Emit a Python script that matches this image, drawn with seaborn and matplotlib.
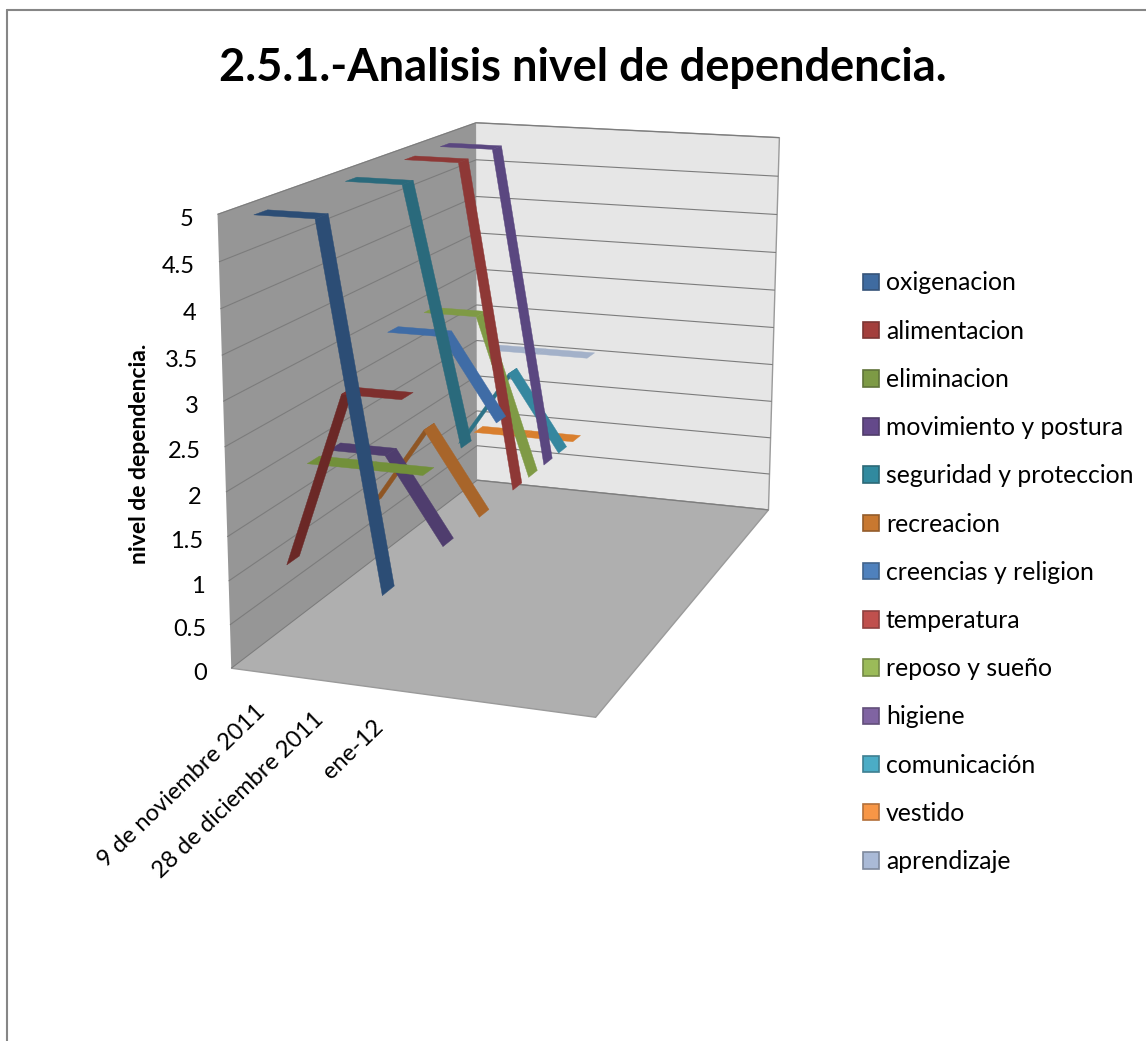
import numpy as np
import matplotlib
matplotlib.use('Agg')
import matplotlib.pyplot as plt
import seaborn as sns
from matplotlib.colors import to_rgb
from matplotlib.lines import Line2D
from matplotlib.patches import Patch
from matplotlib.transforms import offset_copy
from mpl_toolkits.mplot3d import proj3d
from mpl_toolkits.mplot3d.art3d import Poly3DCollection

fechas = ['9 de noviembre 2011', '28 de diciembre 2011', 'ene-12']
series = ['oxigenacion', 'alimentacion', 'eliminacion', 'movimiento y postura',
          'seguridad y proteccion', 'recreacion', 'creencias y religion', 'temperatura',
          'reposo y sueño', 'higiene', 'comunicación', 'vestido', 'aprendizaje']
oxigenacion = [5, 5, 1]
alimentacion = [1, 3, 3]
eliminacion = [2, 2, 2]
movimiento = [2, 2, 1]
seguridad = [5, 5, 2]
recreacion = [1, 2, 1]
creencias = [3, 3, 2]
temperatura = [5, 5, 1]
reposo = [3, 3, 1]
higiene = [5, 5, 1]
comunicacion = [1, 2, 1]
vestido = [1, 1, 1]
aprendizaje = [2, 2, 2]
valores = [oxigenacion, alimentacion, eliminacion, movimiento, seguridad, recreacion, creencias,
           temperatura, reposo, higiene, comunicacion, vestido, aprendizaje]
ticks_z = [0, 0.5, 1, 1.5, 2, 2.5, 3, 3.5, 4, 4.5, 5]

color_cinta = ['#2c4d75', '#7e2f2d', '#72903a', '#4f3d6e', '#2a6a7c', '#a8652a', '#3f6ca6',
               '#8e3836', '#7f9a45', '#5a4780', '#35879f', '#d97f2e', '#a3b1c9']
color_leyenda = ['#3f6ba0', '#a33f3c', '#7d9a45', '#64498a', '#318a9f', '#c87830', '#4f81bd',
                 '#c0504d', '#9bbb59', '#8064a2', '#4bacc6', '#f79646', '#aabad7']

sns.set_theme(style='white', rc={'grid.color': '#7c7c7c', 'grid.linewidth': 0.8})
plt.rcParams['font.family'] = ['Lato', 'DejaVu Sans']

W, H = 1146, 1041
fig = plt.figure(figsize=(W / 100, H / 100), dpi=100)
ax = fig.add_subplot(projection='3d')
ax.computed_zorder = False
ax.set_xlim(0, 6, view_margin=0)
ax.set_ylim(0, 13, view_margin=0)
ax.set_zlim(0, 5, view_margin=0)

# camera fitted to the corners of the box
ax.view_init(elev=13.9606, azim=-70.8699, roll=-0.1631)
ax.set_proj_type('persp', focal_length=0.5155)
ax.set_box_aspect((0.8316, 1.5346, 1), zoom=1)
s, dx, dy = 4446.90, 528.03, 660.04
x0, x1 = ax.viewLim.intervalx
y0, y1 = ax.viewLim.intervaly
ax.set_position([(dx + s * x0) / W, (dy + s * y0) / H, s * (x1 - x0) / W, s * (y1 - y0) / H])
ax.patch.set_alpha(0)

ax.xaxis.set_pane_color('#969696')
ax.yaxis.set_pane_color('#e6e6e6')
ax.zaxis.set_pane_color('#afafaf')
for eje in (ax.xaxis, ax.yaxis, ax.zaxis):
    eje.line.set_color((0, 0, 0, 0))
    eje.pane.set_edgecolor('#9a9a9a')
ax.set_xticks([])
ax.set_yticks([])
ax.set_zticks(ticks_z)
ax.set_zticklabels([])
ax.tick_params(axis='z', color=(0, 0, 0, 0))

for k, vals in enumerate(valores):
    y = k + 0.5
    for i in range(len(vals) - 1):
        cara = [(i + 0.5, y - 0.28, vals[i]), (i + 1.5, y - 0.28, vals[i + 1]),
                (i + 1.5, y + 0.28, vals[i + 1]), (i + 0.5, y + 0.28, vals[i])]
        # rising stretches show the underside of the ribbon
        c = np.array(to_rgb(color_cinta[k])) * (0.85 if vals[i + 1] > vals[i] else 1)
        ax.add_collection3d(Poly3DCollection([cara], facecolor=c, edgecolor=c,
                                             linewidth=0.3, zorder=30 - k, shade=False))

izq = offset_copy(ax.transData, fig=fig, x=-24, y=-5, units='dots')
for v in ticks_z:
    ax.text(0, 0, v, f'{v:g}', transform=izq, ha='right', va='center', fontsize=17, color='black')
for i, f in enumerate(fechas):
    u, w, _ = proj3d.proj_transform(i + 0.5, 0, 0, ax.get_proj())
    ax.annotate(f, xy=(u, w), xytext=(2, -36), textcoords='offset pixels', rotation=44, rotation_mode='anchor',
                ha='right', va='center', fontsize=17, color='black', annotation_clip=False)

fig.text(140 / W, 1 - 454 / H, 'nivel de dependencia.', rotation=90, ha='center', va='center',
         fontsize=16.5, fontweight='bold', color='black')
fig.text(582.5 / W, 1 - 68 / H, '2.5.1.-Analisis nivel de dependencia.', ha='center', va='center',
         fontsize=32.5, fontweight='bold', color='black')

marcas = [Patch(facecolor=c, edgecolor=sns.dark_palette(c, 4)[2], linewidth=1.2) for c in color_leyenda]
fig.legend(marcas, series, loc='upper left', bbox_to_anchor=(863 / W, 1 - 271.5 / H), frameon=False, fontsize=17.8,
           labelspacing=1.02, handlelength=0.65, handleheight=0.65, handletextpad=0.28, labelcolor='black',
           borderaxespad=0, borderpad=0)

fig.add_artist(Line2D([7 / W, 7 / W], [0, 1 - 10 / H], color='#868686', lw=1.5))
fig.add_artist(Line2D([7 / W, 1], [1 - 10 / H, 1 - 10 / H], color='#868686', lw=1.5))

fig.savefig('out.png', dpi=100)
